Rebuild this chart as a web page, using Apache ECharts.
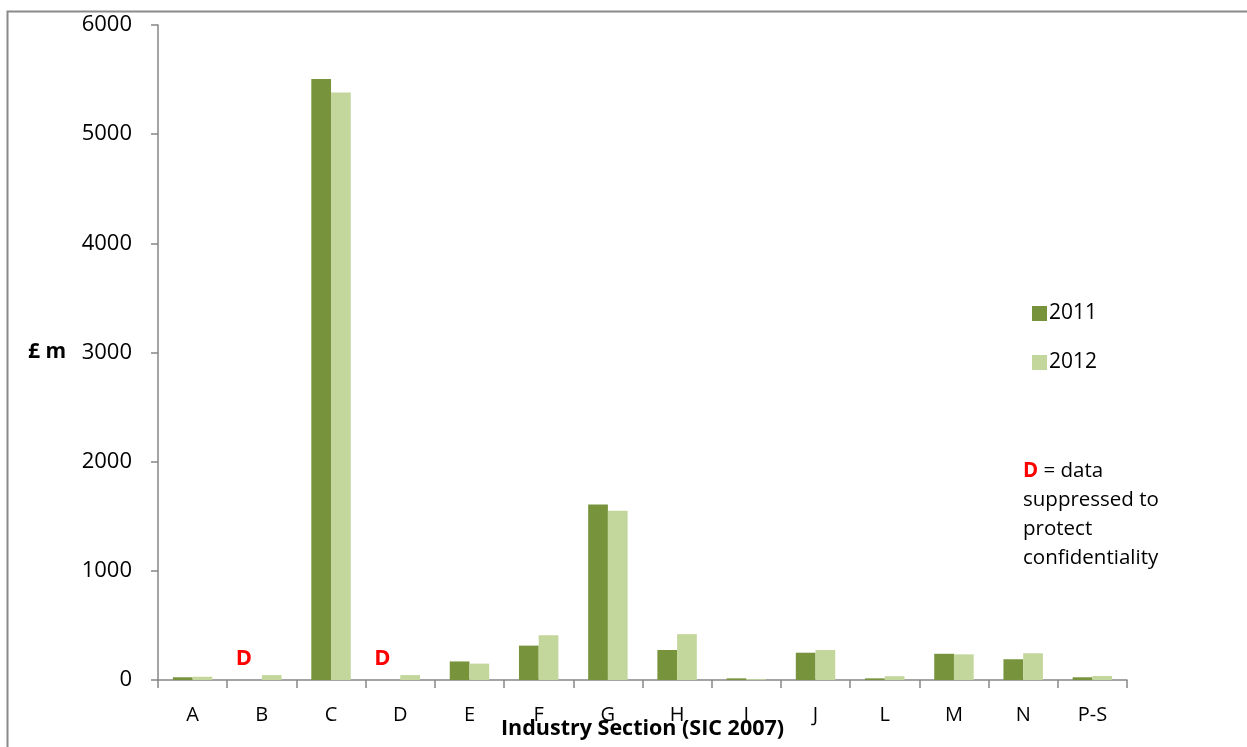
<!DOCTYPE html>
<html>
<head>
<meta charset="utf-8">
<script src="https://cdn.jsdelivr.net/npm/echarts@6/dist/echarts.min.js"></script>
<style>
html,body{margin:0;padding:0;background:#fff;}
#chart{width:1247px;height:747px;}
</style>
</head>
<body>
<div id="chart"></div>
<script>
const categories = ['A','B','C','D','E','F','G','H','I','J','L','M','N','P-S'];
// null = suppressed (D)
const values2011 = [25, null, 5505, null, 170, 315, 1608, 275, 15, 250, 15, 240, 190, 25];
const values2012 = [30, 45, 5382, 45, 150, 410, 1550, 420, 8, 275, 35, 235, 245, 37];
const yTicks = [0, 1000, 2000, 3000, 4000, 5000, 6000];
const seriesNames = ['2011', '2012'];
const xAxisTitle = 'Industry Section (SIC 2007)';

const FONT = '"Open Sans", "Liberation Sans", sans-serif';
const axisColor = '#868686';

const data2011 = values2011.map(v => v === null
  ? {value: 0, label: {show: true, formatter: 'D', position: 'top', distance: 10, offset: [-8, 0],
      color: '#ff0000', fontWeight: 'bold', fontSize: 22, fontFamily: FONT}}
  : v);

const chart = echarts.init(document.getElementById('chart'), null, {renderer: 'canvas'});
chart.setOption({
  animation: false,
  backgroundColor: '#ffffff',
  grid: {left: 158, right: 120, top: 25, bottom: 67, containLabel: false, outerBoundsMode: 'none'},
  legend: {
    orient: 'vertical',
    left: 1027,
    top: 298,
    itemWidth: 15,
    itemHeight: 15,
    itemGap: 28,
    icon: 'rect',
    data: seriesNames,
    textStyle: {fontFamily: FONT, fontSize: 21, color: '#000', padding: [0,0,0,-3]}
  },
  xAxis: {
    type: 'category',
    data: categories,
    boundaryGap: true,
    axisLine: {lineStyle: {color: axisColor, width: 1.5}},
    axisTick: {show: true, alignWithLabel: false, length: 8, inside: false, lineStyle: {color: axisColor, width: 1.5}},
    axisLabel: {fontFamily: FONT, fontSize: 20, color: '#000', margin: 25, interval: 0},
    splitLine: {show: false}
  },
  yAxis: {
    type: 'value',
    min: yTicks[0],
    max: yTicks[yTicks.length - 1],
    interval: 1000,
    name: '£ m',
    nameLocation: 'middle',
    nameRotate: 0,
    nameGap: 92,
    nameTextStyle: {fontFamily: FONT, fontSize: 21, fontWeight: 'bold', color: '#000', align: 'right'},
    axisLine: {show: true, lineStyle: {color: axisColor, width: 1.5}},
    axisTick: {show: true, length: 7, lineStyle: {color: axisColor, width: 1.5}},
    axisLabel: {fontFamily: FONT, fontSize: 22, color: '#000', margin: 26, formatter: v => String(v)},
    splitLine: {show: false}
  },
  series: [
    {
      name: seriesNames[0],
      type: 'bar',
      data: data2011,
      barGap: '0%',
      barCategoryGap: '43%',
      itemStyle: {color: '#77933C'}
    },
    {
      name: seriesNames[1],
      type: 'bar',
      data: values2012,
      barGap: '0%',
      barCategoryGap: '43%',
      itemStyle: {color: '#C3D69B'}
    }
  ],
  graphic: [
    {
      type: 'rect',
      left: 5, top: 9,
      shape: {width: 1400, height: 900},
      style: {fill: 'none', stroke: '#8a8a8a', lineWidth: 2},
      silent: true, z: -10
    },
    {
      type: 'text',
      x: 642.5, y: 729,
      style: {
        text: xAxisTitle, fontFamily: FONT, fontSize: 21.5, fontWeight: 'bold', fill: '#000',
        align: 'center', verticalAlign: 'middle'
      }
    },
    {
      type: 'text',
      left: 1023, top: 457,
      style: {
        text: '{d|D} = data\nsuppressed to\nprotect\nconfidentiality',
        fontFamily: FONT, fontSize: 20.5, lineHeight: 29, fill: '#000',
        rich: {d: {fill: '#ff0000', fontWeight: 'bold', fontSize: 20.5, fontFamily: FONT, lineHeight: 29}}
      }
    }
  ]
});
</script>
</body>
</html>
